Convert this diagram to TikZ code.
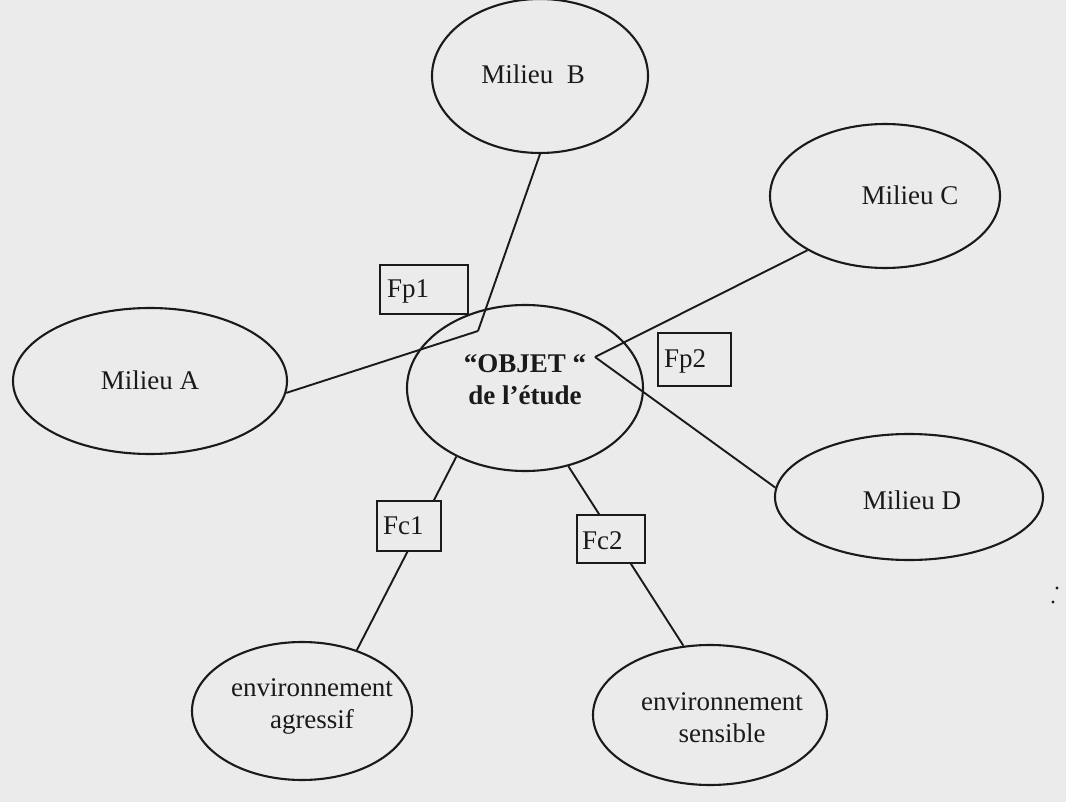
\documentclass[tikz,border=0pt]{standalone}
\usepackage{fontspec}
\setmainfont{Liberation Serif}
\usetikzlibrary{shapes.geometric}
\definecolor{paper}{HTML}{EBEBEB}
\definecolor{ink}{HTML}{1A1A1A}
\tikzset{
  ell/.style={draw=ink, ellipse, line width=2.1pt, inner sep=0pt},
  lbl/.style={font=\fontsize{27}{32}\selectfont, text=ink, align=center, inner sep=0pt},
  fbox/.style={draw=ink, fill=paper, line width=2.1pt, inner sep=0pt},
  link/.style={draw=ink, line width=1.9pt},
}
\begin{document}
\begin{tikzpicture}[x=1pt,y=-1pt]
\fill[paper] (0,0) rectangle (1066,802);
\useasboundingbox (0,0) rectangle (1066,802);
% ellipses
\node[ell, minimum width=216pt, minimum height=154pt] (B) at (540,76) {};
\node[ell, minimum width=230pt, minimum height=144pt] (C) at (885,196) {};
\node[ell, minimum width=274pt, minimum height=146pt] (A) at (150,381) {};
\node[ell, minimum width=236pt, minimum height=166pt] (O) at (525,388) {};
\node[ell, minimum width=268pt, minimum height=126pt] (D) at (909,497) {};
\node[ell, minimum width=220pt, minimum height=138pt] (AG) at (302,711) {};
\node[ell, minimum width=234pt, minimum height=140pt] (S) at (710,715) {};
% texts
\node[lbl] (tB) at (533,74) {Milieu\ \ B};
\node[lbl] (tC) at (910,195) {Milieu C};
\node[lbl] (tA) at (150,380) {Milieu A};
\node[lbl] (tD) at (912,500) {Milieu D};
\node[lbl, font=\fontsize{27}{32}\selectfont\bfseries] (tO) at (525,380) {“OBJET “\\de l’étude};
\node[lbl] (tAG) at (312,706) {environnement\\agressif};
\node[lbl] (tS) at (722,718) {environnement\\sensible};
% meeting points
\coordinate (p1) at (478,331);
\coordinate (p2) at (595,357);
% connectors
\draw[link] (A.-5) -- (p1);
\draw[link] (B.south) -- (p1);
\draw[link] (C.215) -- (p2);
\draw[link] (p2) -- (D.176);
\draw[link] (O.225) -- (AG.48);
\draw[link] (O.-61) -- (S.111);
% boxes
\node[fbox, minimum width=88pt, minimum height=49pt] (Fp1) at (424,289.5) {};
\node[fbox, minimum width=73pt, minimum height=53pt] (Fp2) at (694.5,359.5) {};
\node[fbox, minimum width=64pt, minimum height=50pt] (Fc1) at (409,526) {};
\node[fbox, minimum width=68pt, minimum height=48pt] (Fc2) at (611,539) {};
\node[lbl, anchor=west] (tFp1) at ([xshift=8pt,yshift=-2pt]Fp1.west) {Fp1};
\node[lbl, anchor=west] (tFp2) at ([xshift=7pt,yshift=-2pt]Fp2.west) {Fp2};
\node[lbl, anchor=west] (tFc1) at ([xshift=7pt]Fc1.west) {Fc1};
\node[lbl, anchor=west] (tFc2) at ([xshift=6pt,yshift=-2pt]Fc2.west) {Fc2};
% stray dots
\fill[ink] (1057,588) circle (1.6pt);
\fill[ink] (1053,602) circle (1.6pt);
\end{tikzpicture}
\end{document}
